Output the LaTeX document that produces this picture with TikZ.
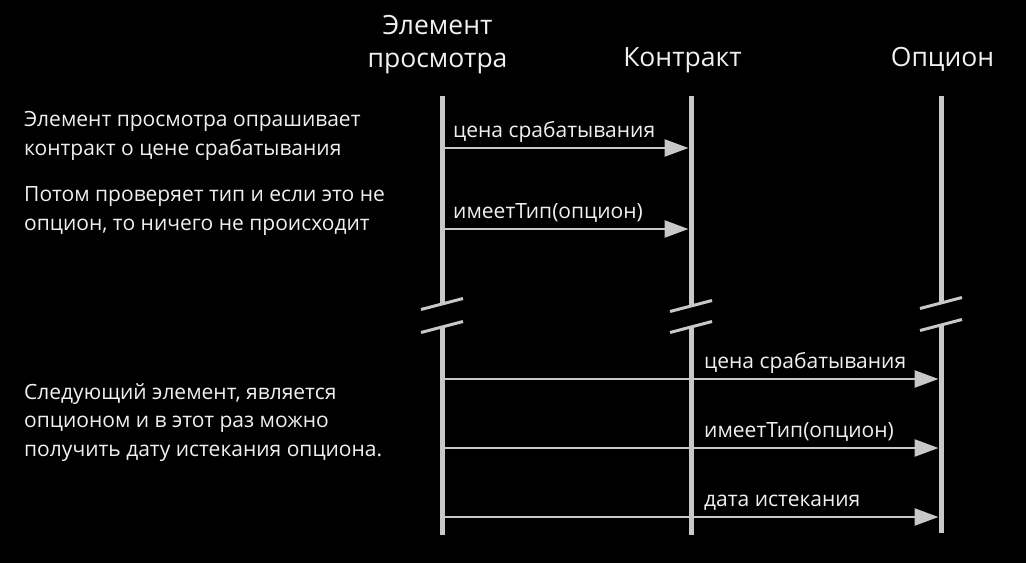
\documentclass[tikz,border=0pt]{standalone}
\usepackage{fontspec}
\setmainfont{Open Sans}
\usetikzlibrary{arrows.meta}
\definecolor{linegray}{HTML}{C8C8C8}
\definecolor{textwhite}{HTML}{F0F0F0}
\tikzset{
  lifeline/.style={draw=linegray,line width=5pt},
  breakmark/.style={draw=linegray,line width=3pt},
  message/.style={draw=linegray,line width=2.5pt,shorten >=2.5pt,
    -{Triangle[length=24pt,width=17pt]}},
  msglabel/.style={anchor=base west,text=textwhite,inner sep=0pt,
    font=\fontsize{21}{24}\selectfont},
  head/.style={anchor=base,text=textwhite,inner sep=0pt,align=center,
    font=\fontsize{26.5}{33}\selectfont},
  note/.style={anchor=base west,text=textwhite,inner sep=0pt,align=left,
    font=\fontsize{21}{28.5}\selectfont}
}
\begin{document}
\begin{tikzpicture}[x=1pt,y=-1pt]
\fill[black] (0,0) rectangle (1026,563);
\useasboundingbox (0,0) rectangle (1026,563);

% participants
\node[head] (elem) at (437.5,67) {Элемент\\просмотра};
\node[head] (contr) at (682.5,66) {Контракт};
\node[head] (opt) at (942.5,66) {Опцион};

% lifelines with break marks
\foreach \name/\x/\yu/\yl/\yb in {e/442/304/327/535, c/691/306/327/535, o/941/303/325/533}{
  \coordinate (\name top) at (\x,96);
  \coordinate (\name up) at (\x,\yu);
  \coordinate (\name low) at (\x,\yl);
  \coordinate (\name bot) at (\x,\yb);
  \draw[lifeline] (\name top) -- (\name up);
  \draw[lifeline] (\name low) -- (\name bot);
  \draw[breakmark] ([shift={(-21,5.5)}]\name up) -- ([shift={(21,-5.5)}]\name up);
  \draw[breakmark] ([shift={(-21,5.5)}]\name low) -- ([shift={(21,-5.5)}]\name low);
}

% message rows
\foreach \name/\y in {m1/148, m2/229, m3/379, m4/448, m5/517}{
  \coordinate (e\name) at (442,\y);
  \coordinate (c\name) at (691,\y);
  \coordinate (o\name) at (941,\y);
}

% first part: view element and contract
\draw[message] (em1) -- (cm1);
\node[msglabel] (l1) at ([shift={(11,-11)}]em1) {цена срабатывания};
\draw[message] (em2) -- (cm2);
\node[msglabel] (l2) at ([shift={(11,-11)}]em2) {имеетТип(опцион)};

% second part: view element and option
\draw[message] (em3) -- (om3);
\node[msglabel] (l3) at ([shift={(13,-11)}]cm3) {цена срабатывания};
\draw[message] (em4) -- (om4);
\node[msglabel] (l4) at ([shift={(13,-11)}]cm4) {имеетТип(опцион)};
\draw[message] (em5) -- (om5);
\node[msglabel] (l5) at ([shift={(13,-11)}]cm5) {дата истекания};

% notes
\node[note] (n1) at (24,155) {Элемент просмотра опрашивает\\контракт о цене срабатывания};
\node[note] (n2) at (24,230) {Потом проверяет тип и если это не\\опцион, то ничего не происходит};
\node[note] (n3) at (24,456) {Следующий элемент, является\\опционом и в этот раз можно\\получить дату истекания опциона.};
\end{tikzpicture}
\end{document}
